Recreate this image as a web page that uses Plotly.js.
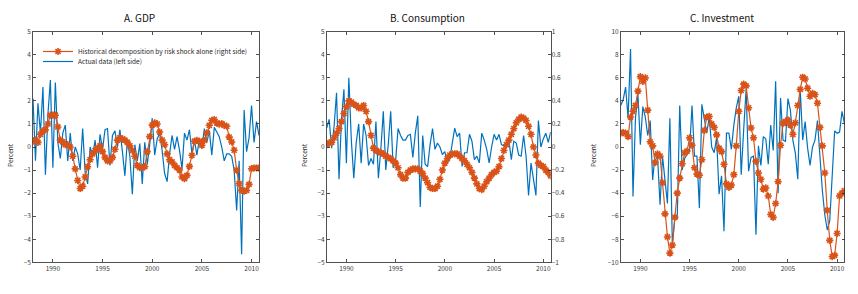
<!DOCTYPE html>
<html>
<head>
<meta charset="utf-8">
<script src="https://cdn.plot.ly/plotly-3.0.1.min.js"></script>
<style>
  html, body { margin: 0; padding: 0; background: #fff; }
  #chart { width: 858px; height: 294px; }
</style>
</head>
<body>
<div id="chart"></div>
<script>
// Quarterly observations, 1988Q1 to 2010Q4
const firstYear = 1988;
const lastYear = 2010;
const yearTicks = [1990, 1995, 2000, 2005, 2010];

// A. GDP: actual growth (left side) and risk-shock decomposition
const gdpActual = [
  2.1, -0.6, 1.9, 0.6,
  2.6, -1.2, 1.4, 2.9,
  -0.9, 2.8, 0.2, -0.5,
  0.6, 0.95, -0.6, 0.6,
  -0.6, 0.0, -0.3, -1.0,
  0.8, -1.1, -1.6, 0.0,
  -0.4, 0.3, -0.9, 0.55,
  -0.1, 0.75, 0.8, -0.8,
  0.5, 0.7, 0.0, 0.75,
  -0.2, -1.25, 0.3, -0.4,
  -2.05, 0.1, -0.6, 0.15,
  -1.6, 0.2, -0.75, 0.1,
  1.25, -0.35, 0.35, 0.6,
  -0.15, -1.15, -1.5, -0.3,
  0.5, -0.1, 0.45, -0.15,
  -0.95, 0.6, 0.3, 0.75,
  -0.3, 0.3, -0.35, 0.35,
  -0.05, 0.8, 0.2, 0.7,
  -0.35, 0.85, 0.65, 0.45,
  0.0, -0.6, -0.3, -0.3,
  -0.4, -1.0, -2.75, -0.6,
  -4.65, 1.6, -0.2, 0.4,
  1.8, 0.2, 1.1, 0.5
];
const gdpRisk = [
  0.25, 0.3, 0.2, 0.55,
  0.7, 0.75, 1.0, 1.38,
  1.38, 1.38, 0.87, 0.3,
  0.22, 0.1, 0.1, 0.0,
  -0.4, -0.95, -1.45, -1.8,
  -1.7, -1.3, -0.85, -0.55,
  -0.3, -0.15, -0.05, 0.05,
  -0.2, -0.45, -0.6, -0.6,
  -0.45, -0.1, 0.3, 0.4,
  0.35, 0.3, 0.2, 0.05,
  -0.15, -0.4, -0.8, -0.9,
  -0.9, -0.85, -0.2, 0.45,
  0.95, 1.05, 1.0, 0.65,
  0.3, 0.1, -0.3, -0.55,
  -0.65, -0.8, -0.9, -1.0,
  -1.3, -1.37, -1.23, -0.84,
  -0.36, 0.25, 0.29, 0.25,
  0.07, 0.29, 0.61, 0.94,
  1.16, 1.19, 1.04, 0.99,
  1.01, 0.94, 0.9, 0.43,
  0.22, -0.14, -1.0, -1.59,
  -1.88, -1.91, -1.88, -1.62,
  -0.94, -0.91, -0.91, -0.91
];

// B. Consumption: actual (left side, percent) and risk-shock decomposition (right side)
const consActual = [
  0.82, 1.2, -0.05, 0.9,
  2.35, -1.4, 1.2, 2.5,
  -0.7, 3.0, 0.3, -1.35,
  0.2, 1.0, -0.7, 1.0,
  0.5, -0.8, -0.5, -0.75,
  1.1, -1.35, -0.1, 1.55,
  -1.0, 0.1, 1.55, -0.9,
  -0.6, 0.8, 0.5, 0.3,
  0.3, 0.5, 0.55, -0.45,
  0.6, 1.35, -2.6, 0.5,
  -0.75, -0.85, 0.1, 0.8,
  -0.1, 0.17, 0.0, -0.33,
  -0.2, -0.69, -0.5, 0.17,
  0.82, 0.45, 0.6, -0.84,
  -0.25, -0.25, 0.55, 0.25,
  -0.55, -0.4, -0.69, 0.6,
  0.3, -0.1, -0.69, 0.0,
  0.55, 0.3, 0.55, 0.1,
  0.05, 0.05, 0.3, -0.55,
  0.25, 0.17, -0.35, -0.4,
  0.5, -0.4, -2.1, -0.7,
  -1.4, -2.1, 1.15, 0.0,
  0.35, 0.6, 0.2, 0.65
];
const consRisk = [
  0.02, 0.035, 0.04, 0.08,
  0.12, 0.16, 0.22, 0.29,
  0.35, 0.4, 0.39, 0.37,
  0.36, 0.34, 0.34, 0.36,
  0.31, 0.22, 0.1, -0.01,
  -0.03, -0.04, -0.05, -0.06,
  -0.08, -0.09, -0.1, -0.12,
  -0.14, -0.18, -0.24, -0.27,
  -0.27, -0.22, -0.2, -0.19,
  -0.19, -0.19, -0.21, -0.23,
  -0.27, -0.31, -0.35, -0.36,
  -0.36, -0.34, -0.28, -0.2,
  -0.14, -0.1, -0.07, -0.06,
  -0.06, -0.06, -0.08, -0.1,
  -0.12, -0.15, -0.18, -0.22,
  -0.27, -0.32, -0.36, -0.37,
  -0.34, -0.3, -0.27, -0.24,
  -0.22, -0.21, -0.17, -0.1,
  -0.03, 0.02, 0.06, 0.11,
  0.16, 0.21, 0.24, 0.26,
  0.25, 0.23, 0.18, 0.11,
  0.0, -0.07, -0.14, -0.16,
  -0.17, -0.2, -0.22, -0.25
];

// C. Investment: actual and risk-shock decomposition
const invActual = [
  3.6, 4.1, 5.2, 2.5,
  8.5, -4.3, 2.5, 4.6,
  0.2, 3.5, 2.6, 1.0,
  2.3, -2.85, -0.6, -0.9,
  -5.0, -0.8, -2.85, -4.9,
  2.5, -8.5, -6.2, -6.2,
  3.6, -2.0, -1.0, -0.7,
  -0.3, 3.6, -0.8, -0.8,
  -5.3, 3.7, 2.6, 1.2,
  2.6, 0.0, -0.5, 0.8,
  -4.1, -2.5, -7.3, 1.2,
  1.2, -0.2, 1.9, 3.4,
  4.4, -2.4, 1.5, 5.0,
  -2.1, -0.9, -0.8, -7.6,
  0.1, -1.6, 0.9, 0.7,
  -1.5, 1.9, -0.3, 5.7,
  -4.0, 4.25, 0.6, 0.5,
  4.2, 3.2, 0.6, -0.5,
  -2.8, 5.0, 0.6, 2.2,
  -0.1, -1.6, 0.0, 0.6,
  2.3, -1.0, -3.8, -5.9,
  -7.2, -6.4, -2.7, 1.4,
  1.2, 1.3, 3.1, 2.0
];
const invRisk = [
  1.2, 1.25, 1.2, 0.9,
  2.6, 3.1, 3.6, 4.85,
  6.1, 5.7, 6.0, 3.2,
  0.45, 0.1, -1.35, -0.6,
  -0.8, -3.1, -5.8, -7.8,
  -9.2, -8.5, -6.1, -4.0,
  -2.7, -1.45, -0.5, -0.35,
  0.8, 0.15, -1.8, -2.35,
  -2.45, -1.1, 1.45, 2.6,
  2.65, 2.0, 1.7, 1.05,
  -0.1, -0.4, -1.5, -3.2,
  -3.5, -3.3, -2.4, 0.1,
  3.1, 4.9, 5.45, 5.3,
  3.4, 1.65, 0.8, -1.25,
  -2.25, -2.8, -3.65, -3.55,
  -4.25, -5.85, -6.1, -4.9,
  -3.0, 0.15, 2.05, 2.2,
  2.35, 1.9, 1.1, 2.1,
  3.6, 5.0, 6.05, 5.9,
  5.1, 4.4, 4.65, 4.55,
  3.8, 1.7, 0.1, -2.25,
  -5.5, -8.1, -9.5, -9.4,
  -7.5, -4.25, -4.0, -3.8
];

const quarters = [];
for (let y = firstYear; y <= lastYear; y++) {
  for (let q = 0; q < 4; q++) quarters.push(y + q / 4);
}

const blue = '#0072BD';
const orange = '#D95319';
const ink = '#262626';
const fontFamily = '"Noto Sans CJK JP", "Noto Sans", "DejaVu Sans", sans-serif';

function actualTrace(y, xa, ya, show) {
  return {
    x: quarters, y: y, xaxis: xa, yaxis: ya,
    type: 'scatter', mode: 'lines',
    line: { color: blue, width: 1.2 },
    name: 'Actual data (left side)',
    legend: 'legend2', showlegend: show, hoverinfo: 'skip'
  };
}
function riskTrace(y, xa, ya, show) {
  return {
    x: quarters, y: y, xaxis: xa, yaxis: ya,
    type: 'scatter', mode: 'lines+markers',
    line: { color: orange, width: 1.2 },
    marker: { symbol: 'asterisk-open', size: 6, color: orange, line: { color: orange, width: 1.6 } },
    name: 'Historical decomposition by risk shock alone (right side)',
    legend: 'legend', showlegend: show, hoverinfo: 'skip'
  };
}

const data = [
  actualTrace(gdpActual, 'x', 'y', true),
  riskTrace(gdpRisk, 'x', 'y', true),
  actualTrace(consActual, 'x2', 'y2', false),
  riskTrace(consRisk, 'x2', 'y3', false),
  actualTrace(invActual, 'x3', 'y4', false),
  riskTrace(invRisk, 'x3', 'y4', false)
];

const W = 858, H = 294;
const px = v => v / W;
const py = v => 1 - v / H;
const yDomain = [py(262.3), py(31.7)];

const axisCommon = {
  showline: true, linecolor: ink, linewidth: 0.8,
  ticks: 'inside', ticklen: 3, tickwidth: 0.8, tickcolor: ink,
  showgrid: false, zeroline: false,
  tickfont: { family: fontFamily, size: 6.5, color: '#3a3a3a' },
  fixedrange: true
};
function xAxis(x0, x1, anchor) {
  return Object.assign({}, axisCommon, {
    domain: [px(x0), px(x1)], anchor: anchor,
    range: [firstYear, lastYear + 0.75],
    tickmode: 'array', tickvals: yearTicks,
    ticktext: yearTicks.map(String),
    mirror: 'ticks'
  });
}
function yAxis(anchor, lo, hi, step, mirror) {
  return Object.assign({}, axisCommon, {
    domain: yDomain, anchor: anchor,
    range: [lo, hi], dtick: step, tick0: 0,
    mirror: mirror
  });
}

const legendCommon = {
  xanchor: 'left', yanchor: 'top',
  bgcolor: 'rgba(255,255,255,0)', borderwidth: 0,
  font: { family: fontFamily, size: 6.5, color: ink },
  tracegroupgap: 0, itemwidth: 30
};

const layout = {
  width: W, height: H, autosize: false,
  margin: { l: 0, r: 0, t: 0, b: 0 },
  paper_bgcolor: '#fff', plot_bgcolor: '#fff',
  font: { family: fontFamily, color: ink },
  showlegend: true,
  legend: Object.assign({ x: px(38), y: py(37) }, legendCommon),
  legend2: Object.assign({ x: px(38), y: py(47) }, legendCommon),
  xaxis: xAxis(33, 259, 'y'),
  yaxis: yAxis('x', -5, 5, 1, 'ticks'),
  xaxis2: xAxis(326.7, 550.7, 'y2'),
  yaxis2: yAxis('x2', -5, 5, 1, true),
  yaxis3: Object.assign(yAxis('x2', -1, 1, 0.2, false), {
    overlaying: 'y2', side: 'right', showline: false
  }),
  xaxis3: xAxis(620.7, 844.5, 'y4'),
  yaxis4: yAxis('x3', -10, 10, 2, 'ticks'),
  annotations: [
    { text: 'A. GDP', x: px(139), y: py(18) },
    { text: 'B. Consumption', x: px(427), y: py(18) },
    { text: 'C. Investment', x: px(722), y: py(18) }
  ].map(a => Object.assign(a, {
    xref: 'paper', yref: 'paper', xanchor: 'center', yanchor: 'middle',
    showarrow: false, font: { family: fontFamily, size: 10, color: '#111' }
  })).concat([
    { x: px(10), y: py(155) },
    { x: px(304), y: py(155) },
    { x: px(593), y: py(155) }
  ].map(a => Object.assign(a, {
    text: 'Percent', textangle: -90,
    xref: 'paper', yref: 'paper', xanchor: 'center', yanchor: 'middle',
    showarrow: false, font: { family: fontFamily, size: 6.5, color: ink }
  })))
};

Plotly.newPlot('chart', data, layout, { staticPlot: true, displayModeBar: false });
</script>
</body>
</html>
